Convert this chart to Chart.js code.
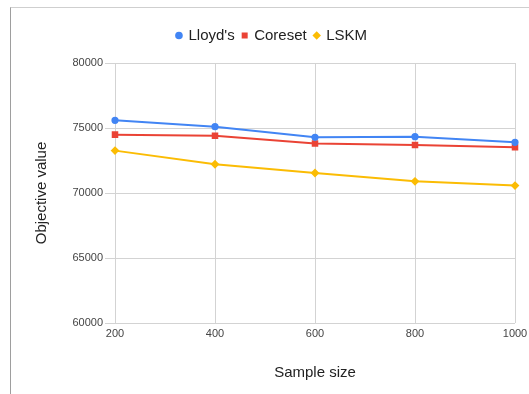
<!DOCTYPE html>
<html>
<head>
<meta charset="utf-8">
<script src="https://cdn.jsdelivr.net/npm/chart.js@4"></script>
<style>
  html, body { margin: 0; padding: 0; background: #fff; }
  #wrap { position: relative; width: 529px; height: 394px; }
  #frame { position: absolute; left: 10px; top: 7px; right: 0; bottom: 0;
           border-left: 1px solid #9e9e9e; border-top: 1px solid #cfcfcf; pointer-events: none; }
  canvas { position: absolute; left: 0; top: 0; }
</style>
</head>
<body>
<div id="wrap">
  <canvas id="c" width="529" height="394"></canvas>
  <div id="frame"></div>
</div>
<script>
const sampleSizes = [200, 400, 600, 800, 1000];
const lloyds  = [75590, 75100, 74280, 74330, 73900];
const coreset = [74490, 74410, 73800, 73690, 73520];
const lskm    = [73260, 72210, 71540, 70900, 70570];
const seriesNames = ["Lloyd's", "Coreset", "LSKM"];

const toPts = vals => sampleSizes.map((x, i) => ({ x: x, y: vals[i] }));
const FONT = "'Liberation Sans', Arial, sans-serif";

// adds extra space below the legend
const legendGap = {
  id: 'legendGap',
  beforeLayout(chart) {
    const lg = chart.legend;
    if (lg && !lg._gapPatched) {
      const f = lg.fit;
      lg.fit = function () { f.apply(this, arguments); this.height += 10; };
      lg._gapPatched = true;
    }
  }
};

new Chart(document.getElementById('c'), {
  type: 'line',
  data: {
    datasets: [
      { label: seriesNames[0], data: toPts(lloyds), borderColor: '#4285F4', backgroundColor: '#4285F4',
        pointStyle: 'circle', pointRadius: 2.6, borderWidth: 2, clip: false },
      { label: seriesNames[1], data: toPts(coreset), borderColor: '#EA4335', backgroundColor: '#EA4335',
        pointStyle: 'rect', pointRadius: 3.2, borderWidth: 2, clip: false },
      { label: seriesNames[2], data: toPts(lskm), borderColor: '#FBBC04', backgroundColor: '#FBBC04',
        pointStyle: 'rectRot', pointRadius: 3, borderWidth: 2, clip: false }
    ]
  },
  plugins: [legendGap],
  options: {
    responsive: false,
    animation: false,
    layout: { padding: { left: 29, right: 14, top: 20, bottom: 8 } },
    plugins: {
      legend: {
        position: 'top',
        labels: { usePointStyle: true, boxWidth: 4, boxHeight: 4, padding: 8,
                  color: '#222', font: { family: FONT, size: 15 } }
      },
      tooltip: { enabled: false }
    },
    scales: {
      x: {
        type: 'linear', min: 200, max: 1000,
        ticks: { stepSize: 200, color: '#444', font: { family: FONT, size: 11 }, padding: 4,
                 callback: v => String(v) },
        grid: { color: '#d3d3d3', drawTicks: false },
        border: { display: false },
        title: { display: true, text: 'Sample size', color: '#222', font: { family: FONT, size: 15 }, padding: { top: 16 } },
        afterFit: s => { s.height = 63; s.paddingRight = 0; s.paddingLeft = 0; }
      },
      y: {
        min: 60000, max: 80000,
        ticks: { stepSize: 5000, color: '#444', font: { family: FONT, size: 11 }, padding: 2,
                 callback: v => String(v) },
        grid: { color: '#d3d3d3', tickLength: 10 },
        border: { display: false },
        title: { display: true, text: 'Objective value', color: '#222', font: { family: FONT, size: 15 }, padding: { bottom: 8 } },
        afterFit: s => { s.width = 86; }
      }
    }
  }
});
</script>
</body>
</html>
